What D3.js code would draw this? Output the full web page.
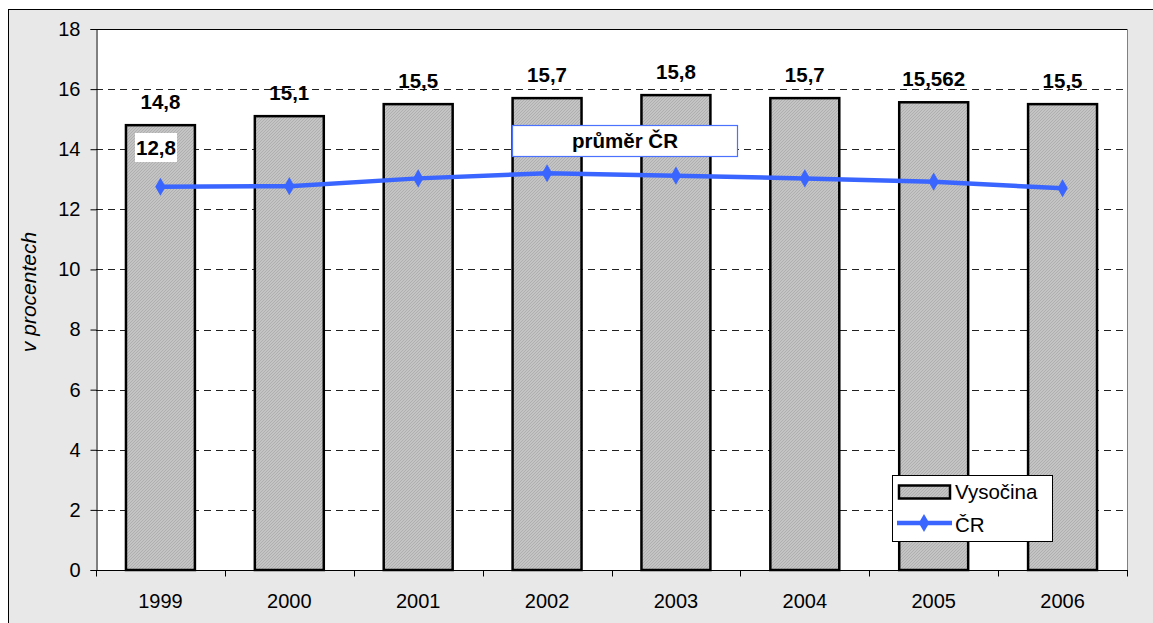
<!DOCTYPE html>
<html>
<head>
<meta charset="utf-8">
<script src="https://cdn.jsdelivr.net/npm/d3@7"></script>
<style>
  body { margin: 0; background: #fff; }
  svg { display: block; font-family: "Liberation Sans", Arial, sans-serif; }
</style>
</head>
<body>
<svg id="chart" width="1153" height="623"></svg>
<script>
// data
let years = ["1999", "2000", "2001", "2002", "2003", "2004", "2005", "2006"];
let vysocina = [14.8, 15.1, 15.5, 15.7, 15.8, 15.7, 15.562, 15.5];
let vysocinaLabels = ["14,8", "15,1", "15,5", "15,7", "15,8", "15,7", "15,562", "15,5"];
let cr = [12.75, 12.77, 13.03, 13.2, 13.12, 13.03, 12.92, 12.7];
let yTicks = [0, 2, 4, 6, 8, 10, 12, 14, 16, 18];

let svg = d3.select("#chart");

// outer chart area
svg.append("rect")
    .attr("x", 8.5).attr("y", 9.5)
    .attr("width", 1160).attr("height", 630)
    .attr("fill", "#e8e8e8")
    .attr("stroke", "#000");

let plot = { left: 96, top: 29, right: 1127, bottom: 570 };

// hatch pattern for bars
let defs = svg.append("defs");
let pat = defs.append("pattern")
    .attr("id", "hatch")
    .attr("patternUnits", "userSpaceOnUse")
    .attr("width", 3).attr("height", 3);
pat.append("rect").attr("width", 3).attr("height", 3).attr("fill", "#c4c4c4");
pat.append("path").attr("d", "M0,3 L3,0").attr("stroke", "#a9a9a9").attr("stroke-width", 0.8);

svg.append("rect")
    .attr("x", plot.left).attr("y", plot.top)
    .attr("width", plot.right - plot.left).attr("height", plot.bottom - plot.top)
    .attr("fill", "#fff");

let x = d3.scaleBand().domain(years).range([plot.left, plot.right]).paddingInner(0.465).paddingOuter(0.2325);
let y = d3.scaleLinear().domain([0, 18]).range([plot.bottom, plot.top]);
let xc = d => x(d) + x.bandwidth() / 2;

// gridlines
svg.append("g").selectAll("line")
    .data(yTicks.filter(d => d > 0 && d < 18))
    .enter().append("line")
    .attr("x1", plot.left).attr("x2", plot.right)
    .attr("y1", d => Math.round(y(d)) + 0.5).attr("y2", d => Math.round(y(d)) + 0.5)
    .attr("stroke", "#222")
    .attr("stroke-dasharray", "7,5");

// plot border top / right
svg.append("line")
    .attr("x1", plot.left).attr("x2", plot.right)
    .attr("y1", plot.top + 0.5).attr("y2", plot.top + 0.5)
    .attr("stroke", "#000");
svg.append("line")
    .attr("x1", plot.right + 0.5).attr("x2", plot.right + 0.5)
    .attr("y1", plot.top).attr("y2", plot.bottom)
    .attr("stroke", "#808080");

// bars
svg.append("g").selectAll("rect")
    .data(years)
    .enter().append("rect")
    .attr("x", d => x(d))
    .attr("y", (d, i) => y(vysocina[i]))
    .attr("width", x.bandwidth())
    .attr("height", (d, i) => y(0) - y(vysocina[i]))
    .attr("fill", "url(#hatch)")
    .attr("stroke", "#000")
    .attr("stroke-width", 2.5);

// axes
let yAxis = svg.append("g")
    .attr("transform", `translate(${plot.left + 0.5},0)`)
    .call(d3.axisLeft(y).tickValues(yTicks).tickSize(6).tickPadding(10).tickFormat(d3.format("d")));
yAxis.selectAll("text").attr("font-size", 20).attr("fill", "#000")
    .attr("font-family", "Liberation Sans, Arial, sans-serif");
yAxis.select(".domain").attr("stroke", "#000");

let xAxis = svg.append("g")
    .attr("transform", `translate(0,${plot.bottom + 0.5})`);
xAxis.append("line")
    .attr("x1", plot.left).attr("x2", plot.right + 1)
    .attr("stroke", "#000");
xAxis.selectAll(".xt")
    .data(d3.range(years.length + 1))
    .enter().append("line")
    .attr("x1", i => Math.round(plot.left + i * x.step()) + 0.5)
    .attr("x2", i => Math.round(plot.left + i * x.step()) + 0.5)
    .attr("y1", 0).attr("y2", 6)
    .attr("stroke", "#000");
xAxis.selectAll("text")
    .data(years)
    .enter().append("text")
    .attr("x", d => xc(d))
    .attr("y", 37)
    .attr("text-anchor", "middle")
    .attr("font-size", 20)
    .text(d => d);

// y label
svg.append("text")
    .attr("transform", "translate(36,292) rotate(-90)")
    .attr("text-anchor", "middle")
    .attr("font-size", 21)
    .attr("font-style", "italic")
    .text("v procentech");

// CR line
let line = d3.line().x((d, i) => xc(years[i])).y(d => y(d));
svg.append("path")
    .datum(cr)
    .attr("d", line)
    .attr("fill", "none")
    .attr("stroke", "#3a66ff")
    .attr("stroke-width", 4.5);

let diamond = d3.symbol().type(d3.symbolDiamond).size(95);
svg.append("g").selectAll("path")
    .data(cr)
    .enter().append("path")
    .attr("d", diamond)
    .attr("transform", (d, i) => `translate(${xc(years[i])},${y(d)})`)
    .attr("fill", "#3a66ff");

// bar value labels
svg.append("g").selectAll("text")
    .data(years)
    .enter().append("text")
    .attr("x", d => xc(d))
    .attr("y", (d, i) => y(vysocina[i]) - 16)
    .attr("text-anchor", "middle")
    .attr("font-size", 20.5)
    .attr("font-weight", "bold")
    .text((d, i) => vysocinaLabels[i]);

// 12,8 label
let firstLbl = svg.append("g");
firstLbl.append("rect")
    .attr("x", 135).attr("y", 133).attr("width", 42).attr("height", 29)
    .attr("fill", "#fff");
firstLbl.append("text")
    .attr("x", 156).attr("y", 155)
    .attr("text-anchor", "middle")
    .attr("font-size", 20.5)
    .attr("font-weight", "bold")
    .text("12,8");

// "průměr ČR" box
svg.append("rect")
    .attr("x", 512.5).attr("y", 125.5).attr("width", 225).attr("height", 31)
    .attr("fill", "#fff")
    .attr("stroke", "#4a72ff")
    .attr("stroke-width", 1.2);
svg.append("text")
    .attr("x", 625).attr("y", 148)
    .attr("text-anchor", "middle")
    .attr("font-size", 20.5)
    .attr("font-weight", "bold")
    .text("průměr ČR");

// legend
let legend = svg.append("g");
legend.append("rect")
    .attr("x", 892.5).attr("y", 475.5).attr("width", 160).attr("height", 66)
    .attr("fill", "#fff")
    .attr("stroke", "#000");
legend.append("rect")
    .attr("x", 899).attr("y", 485.5).attr("width", 51).attr("height", 13)
    .attr("fill", "url(#hatch)")
    .attr("stroke", "#000")
    .attr("stroke-width", 2.5);
legend.append("text")
    .attr("x", 955).attr("y", 499)
    .attr("font-size", 20.5)
    .text("Vysočina");
legend.append("line")
    .attr("x1", 897).attr("x2", 952)
    .attr("y1", 523).attr("y2", 523)
    .attr("stroke", "#3a66ff")
    .attr("stroke-width", 4.5);
legend.append("path")
    .attr("d", diamond)
    .attr("transform", "translate(924,523)")
    .attr("fill", "#3a66ff");
legend.append("text")
    .attr("x", 955).attr("y", 532)
    .attr("font-size", 20.5)
    .text("ČR");
</script>
</body>
</html>
